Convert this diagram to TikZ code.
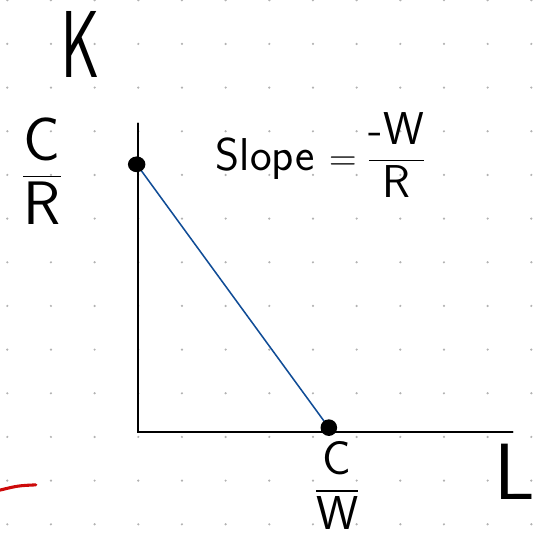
\documentclass[tikz,border=0pt]{standalone}
\usepackage{amsmath}
\usepackage{tikz}
\usetikzlibrary{positioning}
\usetikzlibrary{calc}
\definecolor{penblue}{RGB}{16,76,150}
\definecolor{penred}{RGB}{205,10,10}
\tikzset{
    gridpt/.style = {fill=black!30},
    hand/.style = {inner sep=0pt},
    bigdot/.style = {fill=black}
}
\begin{document}
\begin{tikzpicture}[line cap=round]
    \useasboundingbox (0,0) rectangle (12.343,12.343);
    \foreach \i in {0,...,12}
        \foreach \j in {0,...,12}
            \fill[gridpt] (0.167+\i,0.337+\j) circle (0.028);
    \coordinate (origin) at (3.167,2.443);
    \coordinate (ktop) at (3.167,9.52);
    \coordinate (lend) at (11.74,2.443);
    \coordinate (kint) at (3.13,8.58);
    \coordinate (lint) at (7.53,2.55);
    \draw[line width=1.3pt] (ktop) -- (origin) -- (lend);
    \draw[penblue, line width=1pt] (kint) -- (lint);
    \fill[bigdot] (kint) ellipse (0.2 and 0.18);
    \fill[bigdot] (lint) circle (0.19);
    \node[hand, font=\sffamily\fontsize{62}{62}\selectfont] (klabel) at (1.85,11.33) {\scalebox{0.62}[1]{K}};
    \node[hand, font=\sffamily\fontsize{52}{52}\selectfont] (llabel) at (11.8,1.53) {L};
    \node[hand, font=\sffamily\fontsize{40}{40}\selectfont] (cr) at (0.96,8.43) {$\dfrac{\text{C}}{\text{R}}$};
    \node[hand, font=\sffamily\fontsize{31}{31}\selectfont] (cw) at (7.72,1.22) {$\dfrac{\text{C}}{\text{W}}$};
    \node[hand, font=\sffamily\fontsize{30}{30}\selectfont] (slope) at (7.35,8.79) {Slope $= \dfrac{\text{-W}}{\text{R}}$};
    \coordinate (redstart) at (0,1.12);
    \coordinate (redend) at (0.82,1.24);
    \draw[penred, line width=2pt] (redstart) .. controls (0.41,1.22) .. (redend);
\end{tikzpicture}
\end{document}
